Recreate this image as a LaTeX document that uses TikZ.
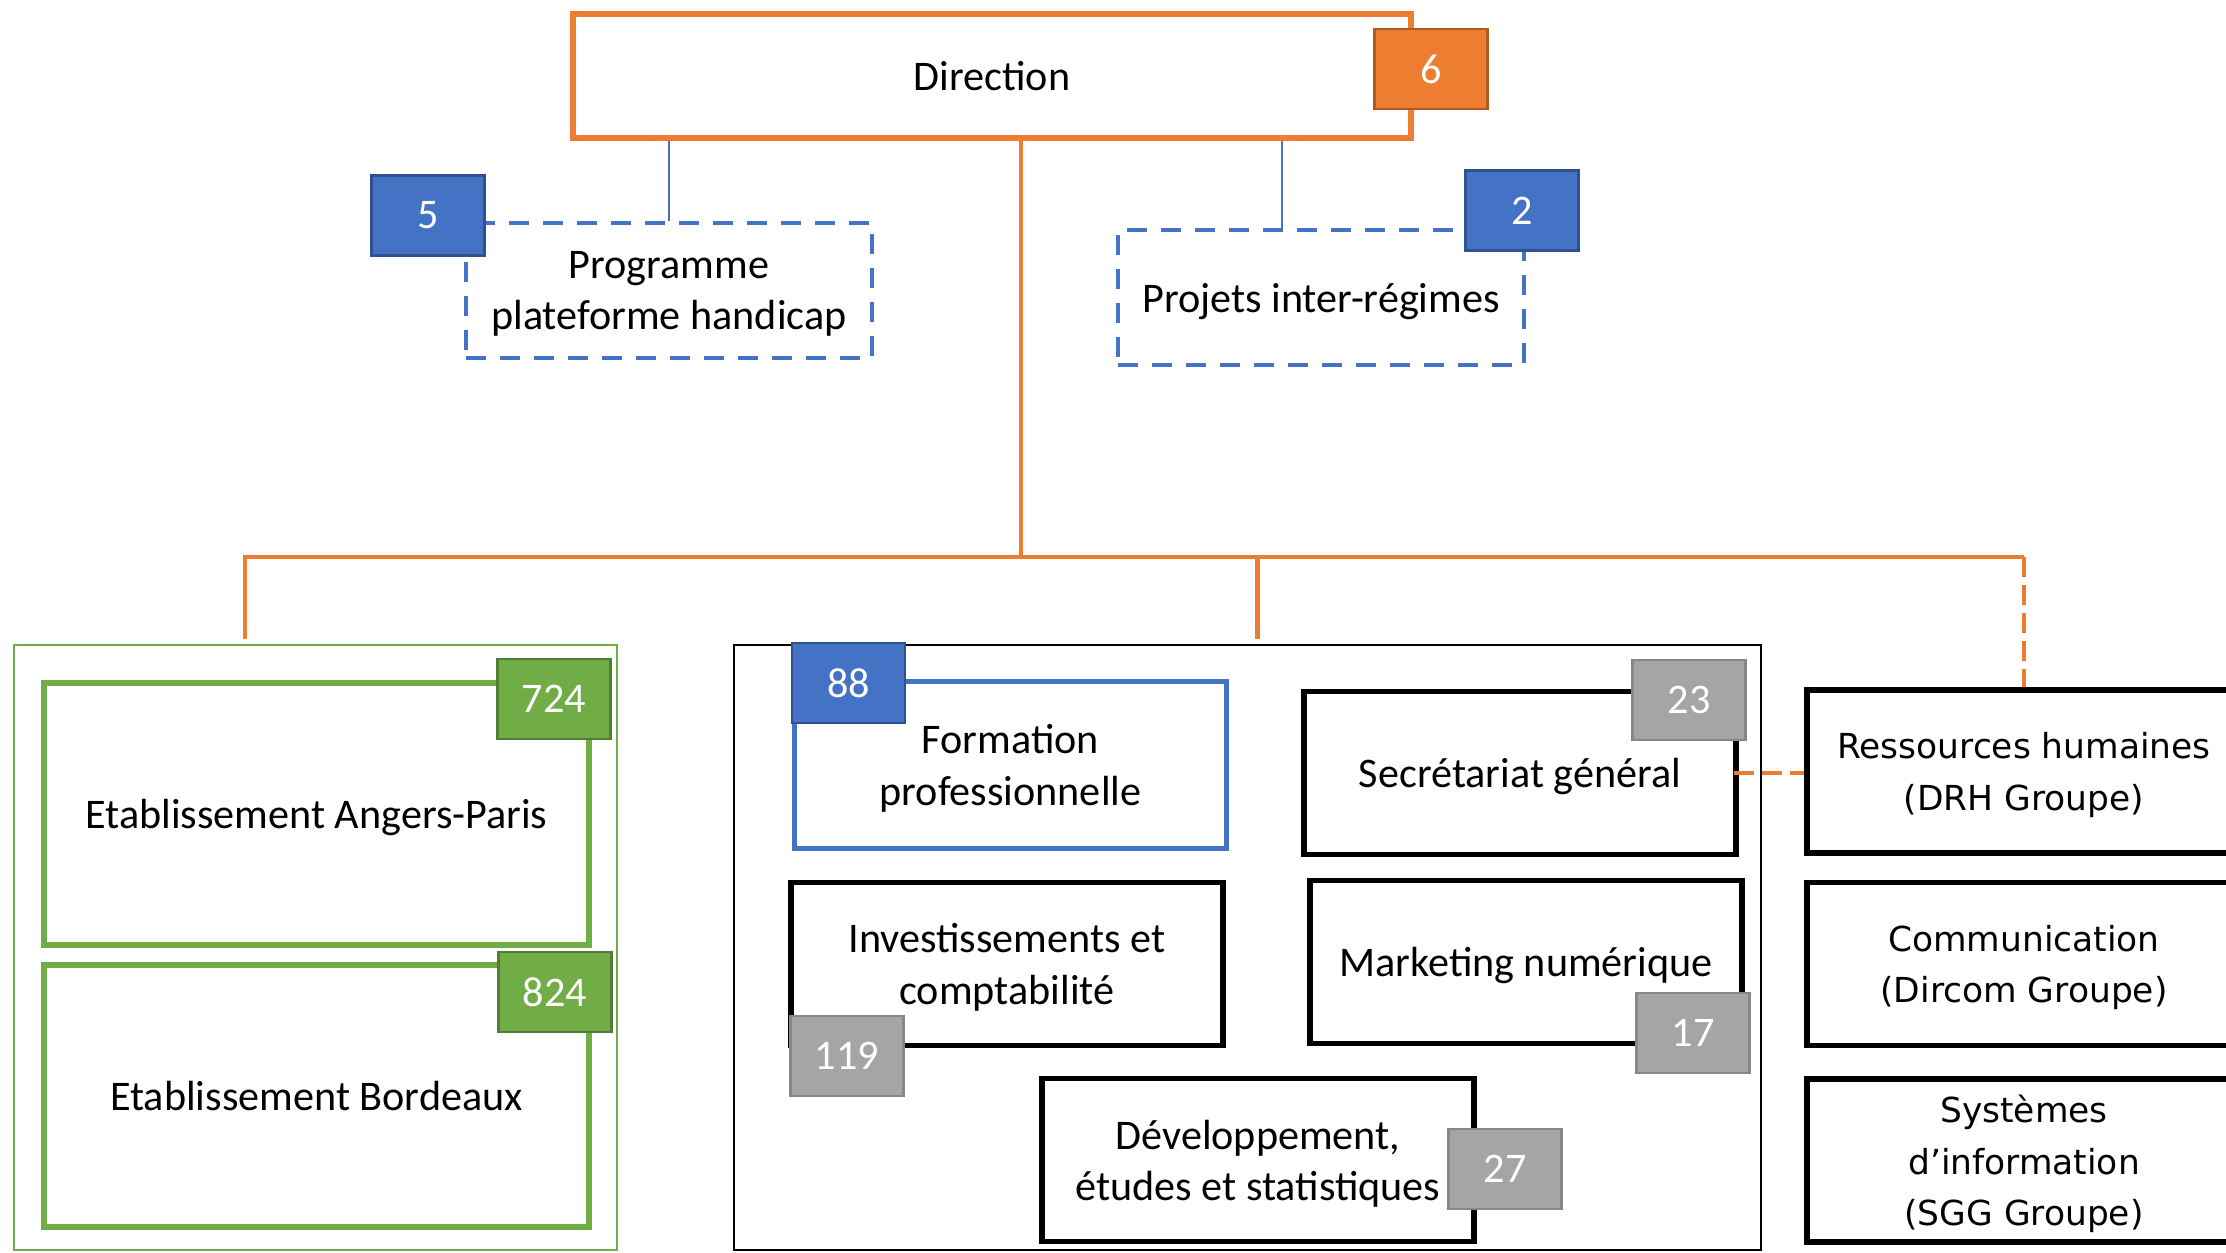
\documentclass[tikz,border=0pt]{standalone}
\usepackage{fontspec}
\setmainfont{Carlito}
\newfontfamily\grpfont{DejaVu Sans}
\usepackage{tikz}
\usetikzlibrary{positioning}

\definecolor{orangeA}{HTML}{ED7D31}
\definecolor{orangeB}{HTML}{AE5A21}
\definecolor{blueA}{HTML}{4472C4}
\definecolor{blueB}{HTML}{2F528F}
\definecolor{greenA}{HTML}{70AD47}
\definecolor{greenB}{HTML}{507E32}
\definecolor{greyA}{HTML}{A5A5A5}
\definecolor{greyB}{HTML}{878787}

\begin{document}
\begin{tikzpicture}[font=\fontsize{12}{14.6}\selectfont]
		\tikzstyle{service}=[draw, line width=1.5pt, minimum width=4.32cm, minimum height=1.63cm, align=center, text depth=0pt];
		\tikzstyle{etab}=[draw=greenA, line width=1.7pt, minimum width=5.45cm, minimum height=2.62cm, align=center, text depth=0pt];
		\tikzstyle{projet}=[draw=blueA, line width=1.3pt, dash pattern=on 0.2cm off 0.14cm, minimum width=4.06cm, minimum height=1.35cm, align=center, text depth=0pt];
		\tikzstyle{groupe}=[service, minimum width=4.34cm, font=\grpfont\fontsize{9.8}{14.7}\selectfont];
		\tikzstyle{badge}=[draw, line width=0.8pt, text=white, minimum width=1.13cm, minimum height=0.8cm];
		\tikzstyle{trunk}=[draw=orangeA, line width=1.4pt];
		\tikzstyle{link}=[draw=orangeA, line width=1.4pt, dash pattern=on 0.2cm off 0.08cm];

		\useasboundingbox (0,0) rectangle (22.26,-12.52);
		\clip (0,0) rectangle (22.26,-12.52);

		\node[draw=orangeA, line width=1.6pt, minimum width=8.38cm, minimum height=1.24cm] (dir) at (9.92,-0.76) {Direction};
		\node[projet] (prog) at (6.69,-2.905) {Programme\\plateforme handicap};
		\node[projet] (proj) at (13.21,-2.975) {Projets inter-régimes};

		\node[draw=greenA, line width=0.6pt, minimum width=6.03cm, minimum height=6.05cm] (grp) at (3.155,-9.475) {};
		\node[draw, line width=0.7pt, minimum width=10.27cm, minimum height=6.05cm] (siege) at (12.475,-9.475) {};

		\node[etab] (ang) at (3.165,-8.135) {Etablissement Angers-Paris};
		\node[etab] (bdx) at (3.165,-10.955) {Etablissement Bordeaux};

		\node[service, draw=blueA, line width=1.3pt, minimum height=1.67cm] (form) at (10.105,-7.65) {Formation\\professionnelle};
		\node[service] (sg) at (15.20,-7.73) {Secrétariat général};
		\node[service] (inv) at (10.07,-9.64) {Investissements et\\comptabilité};
		\node[service] (mkt) at (15.26,-9.62) {Marketing numérique};
		\node[service] (dev) at (12.58,-11.60) {Développement,\\études et statistiques};

		\node[groupe] (rh) at (20.24,-7.715) {Ressources humaines\\(DRH Groupe)};
		\node[groupe] (com) at (20.24,-9.64) {Communication\\(Dircom Groupe)};
		\node[groupe] (sys) at (20.24,-11.605) {Systèmes\\d’information\\(SGG Groupe)};

		\coordinate (hub) at (10.21,-5.57);
		\coordinate (lft) at (2.45,-6.39);
		\coordinate (mid) at (12.575,-6.39);
		\coordinate (pj) at (12.82,-2.29);

		\draw[trunk] (hub |- dir.south) -- (hub);
		\draw[trunk] (hub) -| (lft);
		\draw[trunk] (hub) -| (mid);
		\draw[trunk] (hub) -- (hub -| rh.north);
		\draw[link] (hub -| rh.north) -- (rh.north);
		\draw[link] ([xshift=-0.05cm]sg.east) -- (sg.east -| rh.west);
		\draw[blueA, line width=0.4pt] (prog.north |- dir.south) -- (prog.north);
		\draw[blueA, line width=0.4pt] (pj |- dir.south) -- (pj);

		\node[badge, fill=orangeA, draw=orangeB] (n6) at (14.31,-0.69) {6};
		\node[badge, fill=blueA, draw=blueB] (n5) at (4.28,-2.155) {5};
		\node[badge, fill=blueA, draw=blueB] (n2) at (15.22,-2.105) {2};
		\node[badge, fill=greenA, draw=greenB] (n724) at (5.54,-6.99) {724};
		\node[badge, fill=greenA, draw=greenB] (n824) at (5.55,-9.92) {824};
		\node[badge, fill=blueA, draw=blueB] (n88) at (8.485,-6.83) {88};
		\node[badge, fill=greyA, draw=greyB] (n23) at (16.89,-7.00) {23};
		\node[badge, fill=greyA, draw=greyB] (n119) at (8.47,-10.56) {119};
		\node[badge, fill=greyA, draw=greyB] (n17) at (16.93,-10.33) {17};
		\node[badge, fill=greyA, draw=greyB] (n27) at (15.05,-11.69) {27};
	\end{tikzpicture}
\end{document}
